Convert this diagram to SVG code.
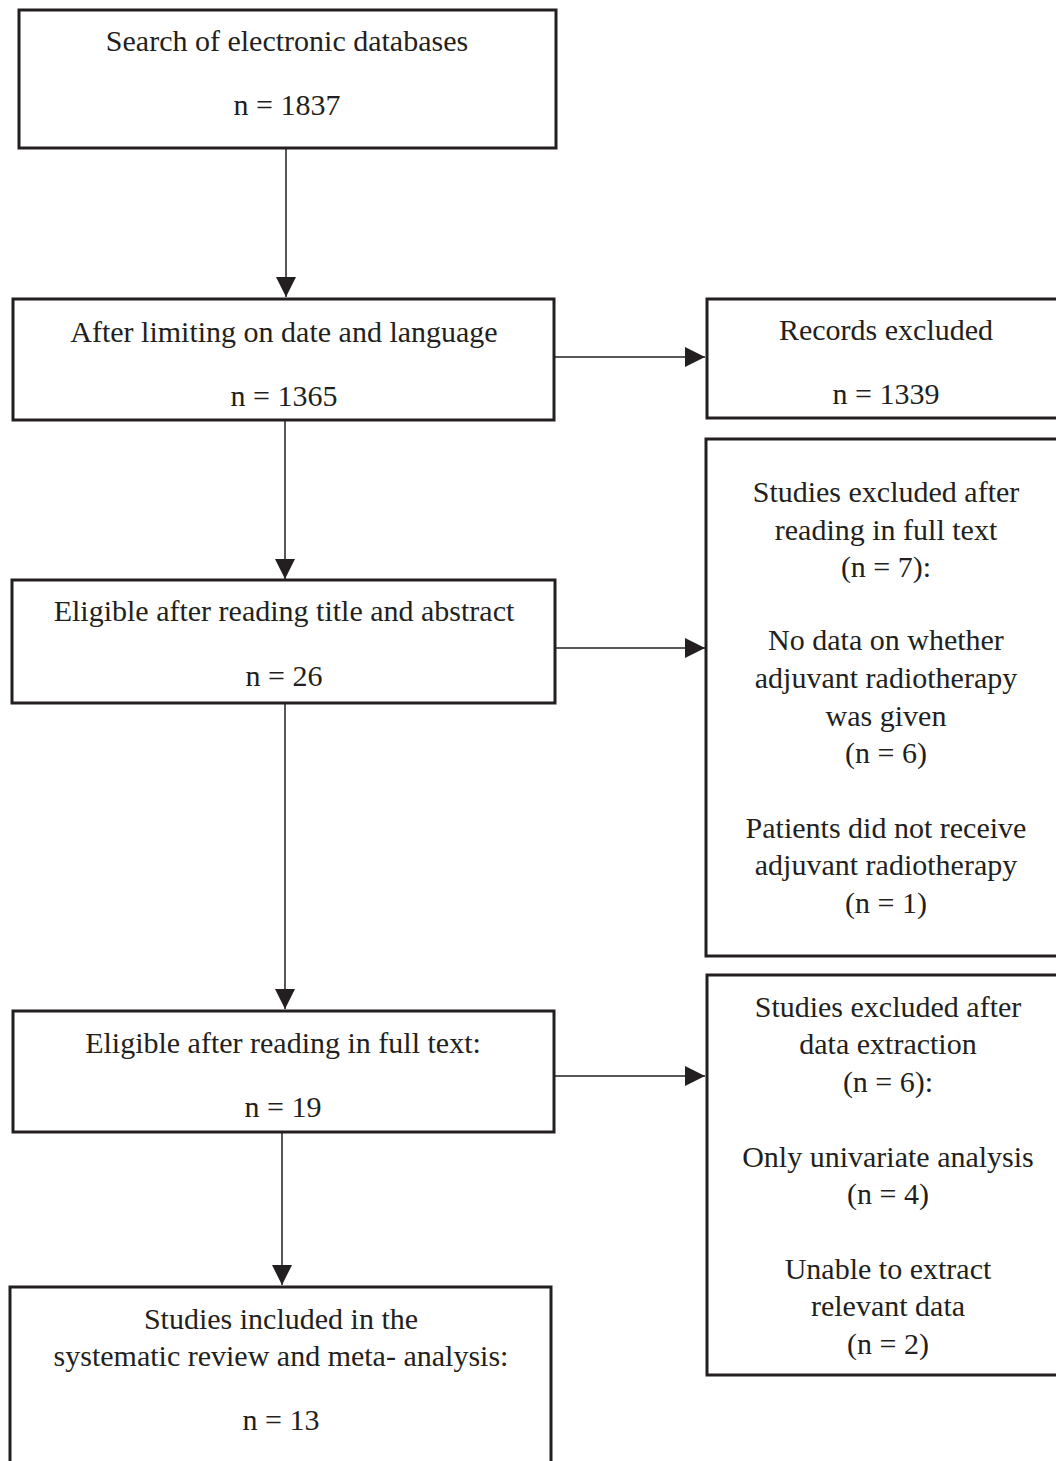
<svg xmlns="http://www.w3.org/2000/svg" width="1056" height="1461" viewBox="0 0 1056 1461">
<style>
.box{fill:#fff;stroke:#231f20;stroke-width:3}
.t{font-family:"Liberation Serif","Times New Roman",serif;font-size:30px;fill:#231f20;text-anchor:middle}
.c{stroke:#231f20;stroke-width:1.5;fill:none}
</style>
<defs>
<marker id="ah" markerWidth="20" markerHeight="20" viewBox="0 0 20 20" refX="20" refY="10" orient="auto" markerUnits="userSpaceOnUse">
<path d="M0,0 L20,10 L0,20 Z" fill="#231f20"/>
</marker>
</defs>
<rect width="1056" height="1461" fill="#fff"/>
<g id="connectors">
<line class="c" x1="286" y1="148" x2="286" y2="297" marker-end="url(#ah)"/>
<line class="c" x1="285" y1="420" x2="285" y2="579" marker-end="url(#ah)"/>
<line class="c" x1="285" y1="703" x2="285" y2="1009" marker-end="url(#ah)"/>
<line class="c" x1="282" y1="1132" x2="282" y2="1285" marker-end="url(#ah)"/>
<line class="c" x1="553" y1="357" x2="705" y2="357" marker-end="url(#ah)"/>
<line class="c" x1="555" y1="648" x2="705" y2="648" marker-end="url(#ah)"/>
<line class="c" x1="554" y1="1076" x2="705" y2="1076" marker-end="url(#ah)"/>
</g>
<g id="n1">
<rect class="box" x="19" y="10" width="537" height="138"/>
<text class="t" x="287" y="51">Search of electronic databases</text>
<text class="t" x="287" y="115">n = 1837</text>
</g>
<g id="n2">
<rect class="box" x="13" y="299" width="541" height="121"/>
<text class="t" x="284" y="342">After limiting on date and language</text>
<text class="t" x="284" y="406">n = 1365</text>
</g>
<g id="n3">
<rect class="box" x="707" y="299" width="352" height="119"/>
<text class="t" x="886" y="340">Records excluded</text>
<text class="t" x="886" y="404">n = 1339</text>
</g>
<g id="n4">
<rect class="box" x="706" y="439" width="353" height="517"/>
<text class="t" x="886" y="502">Studies excluded after</text>
<text class="t" x="886" y="540">reading in full text</text>
<text class="t" x="886" y="577">(n = 7):</text>
<text class="t" x="886" y="650">No data on whether</text>
<text class="t" x="886" y="688">adjuvant radiotherapy</text>
<text class="t" x="886" y="726">was given</text>
<text class="t" x="886" y="763">(n = 6)</text>
<text class="t" x="886" y="838">Patients did not receive</text>
<text class="t" x="886" y="875">adjuvant radiotherapy</text>
<text class="t" x="886" y="913">(n = 1)</text>
</g>
<g id="n5">
<rect class="box" x="12" y="580" width="543" height="123"/>
<text class="t" x="284" y="621">Eligible after reading title and abstract</text>
<text class="t" x="284" y="686">n = 26</text>
</g>
<g id="n6">
<rect class="box" x="707" y="975" width="352" height="400"/>
<text class="t" x="888" y="1017">Studies excluded after</text>
<text class="t" x="888" y="1054">data extraction</text>
<text class="t" x="888" y="1092">(n = 6):</text>
<text class="t" x="888" y="1167">Only univariate analysis</text>
<text class="t" x="888" y="1204">(n = 4)</text>
<text class="t" x="888" y="1279">Unable to extract</text>
<text class="t" x="888" y="1316">relevant data</text>
<text class="t" x="888" y="1354">(n = 2)</text>
</g>
<g id="n7">
<rect class="box" x="13" y="1011" width="541" height="121"/>
<text class="t" x="283" y="1053">Eligible after reading in full text:</text>
<text class="t" x="283" y="1117">n = 19</text>
</g>
<g id="n8">
<rect class="box" x="10" y="1287" width="541" height="190"/>
<text class="t" x="281" y="1329">Studies included in the</text>
<text class="t" x="281" y="1366">systematic review and meta- analysis:</text>
<text class="t" x="281" y="1430">n = 13</text>
</g>
</svg>
